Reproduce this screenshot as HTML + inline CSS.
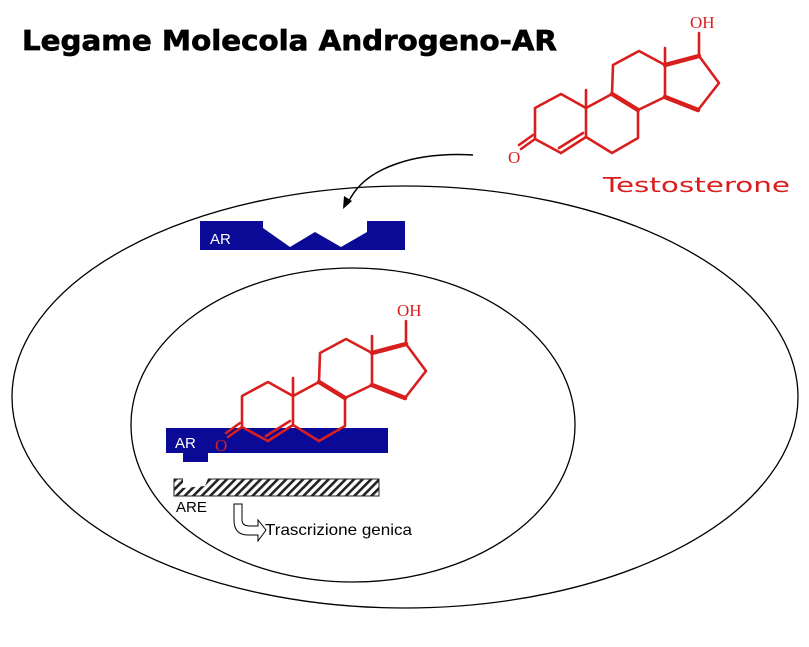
<!DOCTYPE html>
<html><head><meta charset="utf-8"><style>
html,body{margin:0;padding:0;background:#fff;}
svg{display:block;}
</style></head><body>
<svg width="809" height="647" viewBox="0 0 809 647" xmlns="http://www.w3.org/2000/svg">
<defs>
<pattern id="h" patternUnits="userSpaceOnUse" width="6" height="6" patternTransform="rotate(45)">
<rect width="6" height="6" fill="#fff"/><rect width="2.6" height="6" fill="#222"/>
</pattern>
<g id="mol" fill="none" stroke="#d91e1e" stroke-width="2.6" stroke-linejoin="round" stroke-linecap="round">
<polyline points="586,137 586,108 561,94 535,108 535,139 561,153"/>
<line x1="561" y1="153" x2="586" y2="137"/>
<line x1="559" y1="148" x2="583" y2="133"/>
<line x1="535" y1="139" x2="521" y2="149"/>
<line x1="533" y1="135" x2="519" y2="145"/>
<polyline points="586,108 612,94 613,65 639,51 665,65 665,97 638,110 612,94"/>
<polyline points="638,110 638,138 612,153 586,137"/>
<polyline points="665,65 699,56 719,83 698,110 665,97" />
<line x1="699" y1="56" x2="699" y2="33"/>
<line x1="586" y1="108" x2="586" y2="90"/>
<line x1="665" y1="65" x2="665" y2="48"/>
<line x1="612" y1="94" x2="638" y2="110" stroke-width="4.5"/>
<line x1="665" y1="65" x2="699" y2="56" stroke-width="4.5"/>
<line x1="665" y1="97" x2="698" y2="110" stroke-width="4.5"/>
<text x="508" y="163" fill="#d91e1e" stroke="none" font-family="Liberation Serif, serif" font-size="17">O</text>
<text x="690" y="28" fill="#d91e1e" stroke="none" font-family="Liberation Serif, serif" font-size="17">OH</text>
</g>
</defs>

<text x="22" y="50" font-family="DejaVu Sans, sans-serif" font-weight="bold" font-size="28" stroke="#000" stroke-width="0.7" textLength="535" lengthAdjust="spacingAndGlyphs">Legame Molecola Androgeno-AR</text>

<use href="#mol"/>
<text x="603" y="192" fill="#d91e1e" font-family="DejaVu Sans, sans-serif" font-size="20" textLength="187" lengthAdjust="spacingAndGlyphs">Testosterone</text>

<ellipse cx="405" cy="397" rx="393" ry="211" fill="none" stroke="#000" stroke-width="1.3"/>
<ellipse cx="353" cy="425" rx="222" ry="157" fill="none" stroke="#000" stroke-width="1.3"/>

<path d="M473,155 C420,152 365,165 348,203" fill="none" stroke="#000" stroke-width="1.5"/>
<path d="M343,209 L344,196 L352,201 Z" fill="#000"/>

<path d="M200,221 H263 V228 L290,247 L315,232 L341,247 L367,232 V221 H405 V250 H200 Z" fill="#0a0a96"/>
<text x="210" y="244" fill="#fff" font-family="Liberation Sans, sans-serif" font-size="15">AR</text>

<path d="M166,428 H388 V453 H208 V462 H183 V453 H166 Z" fill="#0a0a96"/>
<text x="175" y="448" fill="#fff" font-family="Liberation Sans, sans-serif" font-size="15">AR</text>
<g transform="translate(-293,288)"><use href="#mol"/></g>

<path d="M174,479 H379 V496 H174 Z" fill="url(#h)" stroke="#222" stroke-width="1"/>
<path d="M183,478.5 H208 L205,486 L183,488 Z" fill="#fff"/>
<text x="176" y="512" font-family="Liberation Sans, sans-serif" font-size="15">ARE</text>

<path d="M234,504 H242 V520 Q242,526 250,526 H258 V520 L266,530 L258,541 V535 H248 Q234,535 234,520 Z" fill="#fff" stroke="#000" stroke-width="1"/>
<text x="265" y="535" font-family="Liberation Sans, sans-serif" font-size="16" textLength="147" lengthAdjust="spacingAndGlyphs">Trascrizione genica</text>
</svg>
</body></html>
